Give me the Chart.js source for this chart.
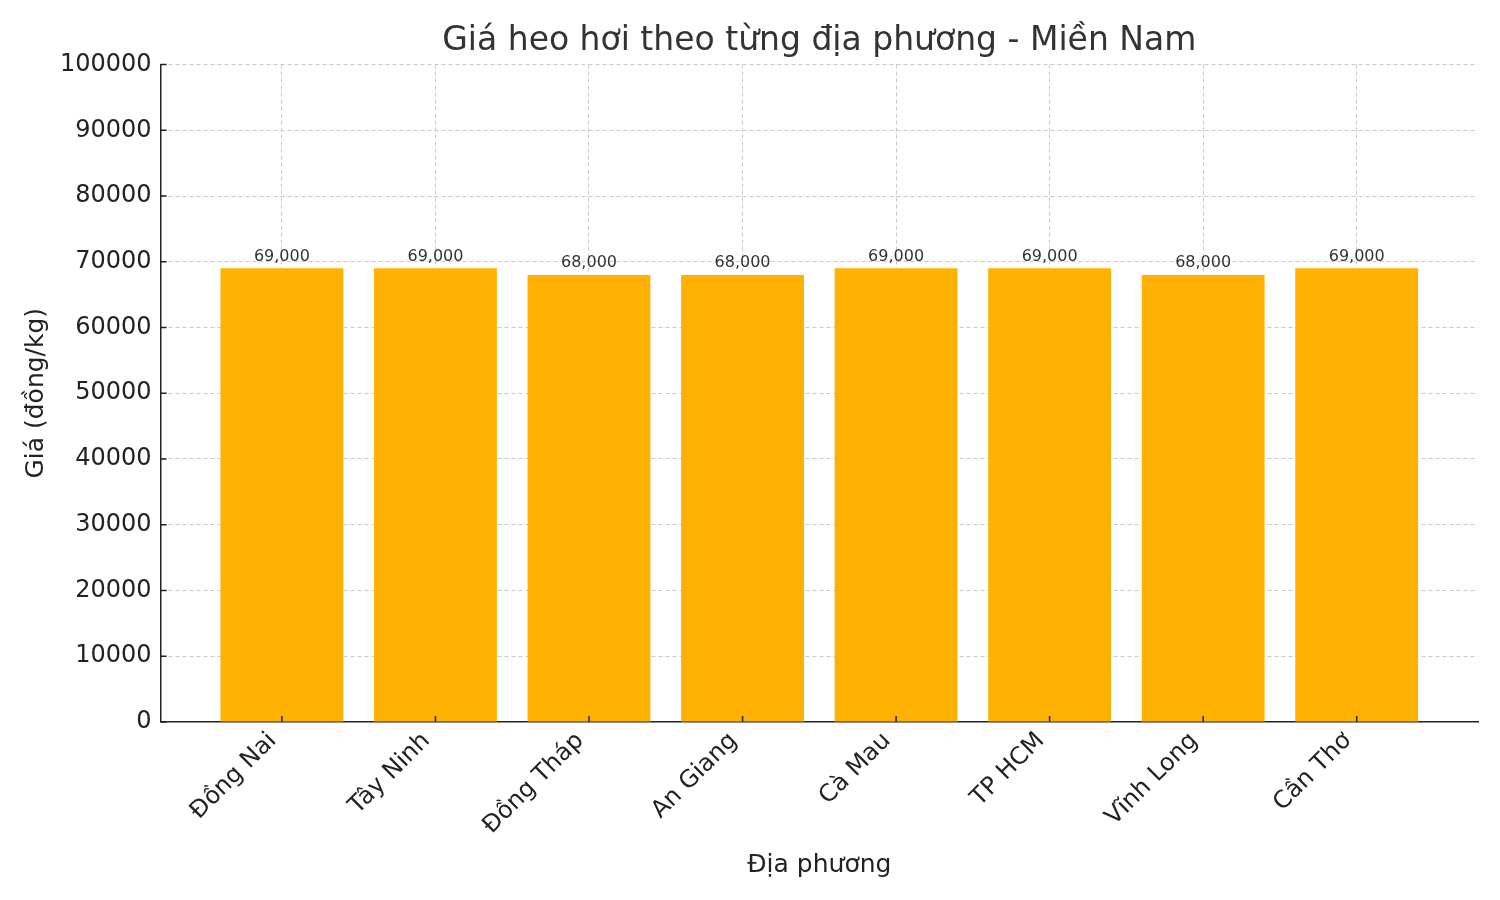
<!DOCTYPE html>
<html>
<head>
<meta charset="utf-8">
<script src="https://cdn.jsdelivr.net/npm/chart.js@4.4.1/dist/chart.umd.min.js"></script>
<style>
  html, body { margin: 0; padding: 0; background: #fff; }
  #wrap { width: 1500px; height: 900px; }
</style>
</head>
<body>
<div id="wrap"><canvas id="myChart" width="1500" height="900"></canvas></div>
<script>
// data
const provinces = ["Đồng Nai", "Tây Ninh", "Đồng Tháp", "An Giang", "Cà Mau", "TP HCM", "Vĩnh Long", "Cần Thơ"];
const prices = [69000, 69000, 68000, 68000, 69000, 69000, 68000, 69000];
const yTicks = [0, 10000, 20000, 30000, 40000, 50000, 60000, 70000, 80000, 90000, 100000];

const FONT = "'DejaVu Sans', sans-serif";

// value labels above each bar
const barLabels = {
  id: 'barLabels',
  afterDatasetsDraw(chart) {
    const ctx = chart.ctx;
    const meta = chart.getDatasetMeta(0);
    ctx.save();
    ctx.font = "16px " + FONT;
    ctx.fillStyle = "#333";
    ctx.textAlign = "center";
    ctx.textBaseline = "bottom";
    meta.data.forEach(function (bar, i) {
      ctx.fillText(prices[i].toLocaleString('en-US'), bar.x, bar.y - 4);
    });
    ctx.restore();
  }
};

// matplotlib style ticks pointing into the plot
const innerTicks = {
  id: 'innerTicks',
  afterDraw(chart) {
    const ctx = chart.ctx;
    const x = chart.scales.x, y = chart.scales.y;
    const area = chart.chartArea;
    ctx.save();
    ctx.strokeStyle = "#222";
    ctx.lineWidth = 1.5;
    ctx.beginPath();
    y.ticks.forEach(function (t) {
      const py = y.getPixelForValue(t.value);
      ctx.moveTo(area.left, py);
      ctx.lineTo(area.left + 6, py);
    });
    x.ticks.forEach(function (t) {
      const px = x.getPixelForValue(t.value);
      ctx.moveTo(px, area.bottom);
      ctx.lineTo(px, area.bottom - 6);
    });
    ctx.stroke();
    ctx.restore();
  }
};

const ctx = document.getElementById('myChart').getContext('2d');
const myChart = new Chart(ctx, {
  type: 'bar',
  data: {
    datasets: [{
      label: 'Giá',
      data: prices.map(function (p, i) { return { x: i, y: p }; }),
      backgroundColor: "#FFB000",
      borderWidth: 0,
      barPercentage: 0.8,
      categoryPercentage: 1.0
    }]
  },
  options: {
    responsive: false,
    animation: false,
    layout: { padding: { left: 21, right: 22, top: 22, bottom: 20 } },
    plugins: {
      legend: { display: false },
      tooltip: { enabled: false },
      title: {
        display: true,
        text: "Giá heo hơi theo từng địa phương - Miền Nam",
        fullSize: false,
        color: "#333",
        font: { family: FONT, size: 33, weight: 'normal' },
        padding: { top: 0, bottom: 3 }
      }
    },
    scales: {
      x: {
        type: 'linear',
        min: -0.79,
        max: 7.79,
        offset: false,
        z: 1,
        afterBuildTicks: function (axis) {
          axis.ticks = provinces.map(function (_, i) { return { value: i }; });
        },
        ticks: {
          autoSkip: false,
          maxRotation: 45,
          minRotation: 45,
          padding: 5,
          labelOffset: -9,
          color: "#222",
          font: { family: FONT, size: 24 },
          callback: function (v) { return provinces[v]; }
        },
        grid: {
          offset: false,
          drawTicks: false,
          color: "#c8c8c8",
          lineWidth: 1
        },
        border: { display: true, color: "#222", width: 1.5, dash: [4, 3] },
        title: {
          display: true,
          text: "Địa phương",
          color: "#222",
          font: { family: FONT, size: 25 },
          padding: { top: 5, bottom: 0 }
        }
      },
      y: {
        min: 0,
        max: 100000,
        z: 1,
        afterBuildTicks: function (axis) {
          axis.ticks = yTicks.map(function (v) { return { value: v }; });
        },
        ticks: {
          padding: 9,
          color: "#222",
          font: { family: FONT, size: 24 },
          callback: function (v) { return String(v); }
        },
        grid: {
          drawTicks: false,
          color: "#c8c8c8",
          lineWidth: 1
        },
        border: { display: true, color: "#222", width: 1.5, dash: [4, 3] },
        title: {
          display: true,
          text: "Giá (đồng/kg)",
          color: "#222",
          font: { family: FONT, size: 25 },
          padding: { top: 0, bottom: 0 }
        }
      }
    }
  },
  plugins: [barLabels, innerTicks]
});
</script>
</body>
</html>
